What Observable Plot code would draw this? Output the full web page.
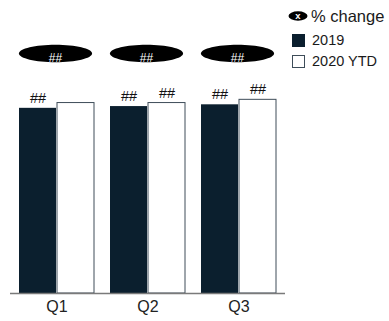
<!DOCTYPE html>
<html>
<head>
<meta charset="utf-8">
<script src="https://cdn.jsdelivr.net/npm/d3@7"></script>
<script src="https://cdn.jsdelivr.net/npm/@observablehq/plot@0.6"></script>
<style>
  html, body { margin: 0; padding: 0; background: #fff; }
  #wrap { position: relative; width: 389px; height: 321px; overflow: hidden; font-family: "Liberation Sans", Arial, sans-serif; }
  #legend { position: absolute; left: 288px; top: 0; width: 140px; color: #1a1a1a; font-size: 14.5px; }
  .row { position: absolute; left: 0; display: flex; align-items: center; white-space: nowrap; }
  .sw { width: 13px; height: 13px; box-sizing: border-box; margin-left: 4px; margin-right: 7px; }
</style>
</head>
<body>
<div id="wrap">
  <div id="chart"></div>
  <div id="legend"></div>
</div>
<script>
const quarters = ["Q1", "Q2", "Q3"];
const series = ["2019", "2020 YTD"];
const values2019 = [63.2, 63.8, 64.4];
const values2020 = [65.0, 65.0, 66.1];
const labels2019 = ["##", "##", "##"];
const labels2020 = ["", "##", "##"];
const changeLabels = ["##", "##", "##"];
const legendChangeLabel = "% change";
const legendChangeMark = "x";

const dark = "#0b1f2e";
const border = "#3e4d59";

const rows2019 = quarters.map((q, i) => ({quarter: q, value: values2019[i], label: labels2019[i]}));
const rows2020 = quarters.map((q, i) => ({quarter: q, value: values2020[i], label: labels2020[i]}));
const changeRows = quarters.map((q, i) => ({quarter: q, label: changeLabels[i]}));

const ellipse = {
  draw(ctx, size) {
    const r = Math.sqrt(size / Math.PI);
    const a = r * 4.2, b = r, k = 0.5523;
    ctx.moveTo(a, 0);
    ctx.bezierCurveTo(a, b * k, a * k, b, 0, b);
    ctx.bezierCurveTo(-a * k, b, -a, b * k, -a, 0);
    ctx.bezierCurveTo(-a, -b * k, -a * k, -b, 0, -b);
    ctx.bezierCurveTo(a * k, -b, a, -b * k, a, 0);
    ctx.closePath();
  }
};

const W = 389, H = 321;
const bw = 76;
const chart = Plot.plot({
  width: W,
  height: H,
  marginLeft: 10,
  marginRight: 104,
  marginTop: 0,
  marginBottom: 28,
  style: {fontFamily: "Liberation Sans, Arial, sans-serif", background: "transparent"},
  x: {domain: quarters, paddingInner: 0.174, paddingOuter: 0.087, axis: null},
  y: {domain: [0, 100], axis: null},
  marks: [
    Plot.barY(rows2019, {x: "quarter", y: "value", fill: dark, insetRight: bw / 2}),
    Plot.barY(rows2020, {x: "quarter", y: "value", fill: "white", stroke: border, strokeWidth: 1, insetLeft: bw / 2}),
    Plot.ruleY([0], {stroke: "#7a7a7a", strokeWidth: 1.5}),
    Plot.text(rows2019, {x: "quarter", y: "value", text: "label", dx: -bw / 4, dy: -10, fontSize: 14.5, fill: "#111"}),
    Plot.text(rows2020, {x: "quarter", y: "value", text: "label", dx: bw / 4, dy: -10, fontSize: 14.5, fill: "#111"}),
    Plot.dot(changeRows, {x: "quarter", frameAnchor: "top", dx: -1.5, dy: 53, r: 8.7, symbol: ellipse, fill: "black", stroke: "none"}),
    Plot.text(changeRows, {x: "quarter", frameAnchor: "top", dx: -1.5, dy: 53, text: "label", fill: "white", fontSize: 12}),
    Plot.text(quarters, {x: d => d, text: d => d, frameAnchor: "bottom", dy: 18.5, fontSize: 16, fill: "#222"})
  ]
});
document.getElementById("chart").appendChild(chart);

const legend = document.getElementById("legend");
legend.innerHTML = `
  <div class="row" style="top:6px;height:20px;">
    <svg width="23" height="20"><ellipse cx="10" cy="10" rx="9.5" ry="4.7" fill="black"/><text x="10" y="10" dy="0.35em" text-anchor="middle" fill="white" font-size="9.5" font-weight="bold" font-family="Liberation Sans, Arial, sans-serif">${legendChangeMark}</text></svg>
    <span style="font-size:16.5px">${legendChangeLabel}</span>
  </div>
  <div class="row" style="top:31px;height:18px;">
    <div class="sw" style="background:${dark}"></div><span>${series[0]}</span>
  </div>
  <div class="row" style="top:52px;height:18px;">
    <div class="sw" style="background:white;border:1px solid ${border}"></div><span>${series[1]}</span>
  </div>`;
</script>
</body>
</html>
